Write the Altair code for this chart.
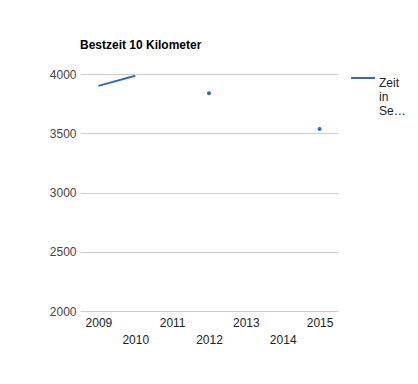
import altair as alt
import pandas as pd

years = [2009, 2010, 2011, 2012, 2013, 2014, 2015]
values = [3900, 3985, None, 3838, None, None, 3535]
series = "Zeit in Sekunden"

df = pd.DataFrame({"Jahr": years, "Wert": values, "Serie": series})
# a value with no neighbour is drawn as a dot, as a line cannot show it
iso = []
for i, v in enumerate(values):
    prev_ok = i > 0 and values[i - 1] is not None
    next_ok = i < len(values) - 1 and values[i + 1] is not None
    iso.append(v is not None and not prev_ok and not next_ok)
df["iso"] = iso

FONT = "Liberation Sans"
BLUE = "#3366cc"

x = alt.X(
    "Jahr:O",
    scale=alt.Scale(paddingOuter=0.5, paddingInner=1),
    axis=alt.Axis(
        title=None, labelAngle=0, domain=False, ticks=False, grid=False,
        labelFont=FONT, labelFontSize=12, labelColor="#222",
        labelPadding={"condition": {"test": "datum.value % 2 == 0", "value": 23}, "value": 6},
        labelBaseline="top",
    ),
)
y = alt.Y(
    "Wert:Q",
    scale=alt.Scale(domain=[2000, 4000], nice=False, zero=False),
    axis=alt.Axis(
        title=None, values=[2000, 2500, 3000, 3500, 4000], format="d", domain=False, ticks=False,
        gridColor="#cccccc", labelFont=FONT, labelFontSize=12, labelColor="#444",
        labelPadding=4,
    ),
)
color = alt.Color(
    "Serie:N",
    scale=alt.Scale(range=[BLUE]),
    legend=alt.Legend(
        title=None, orient="none", legendX=270, legendY=-9,
        symbolType="stroke", symbolStrokeWidth=2, symbolSize=576,
        labelFont=FONT, labelFontSize=12, labelColor="#222",
        labelExpr="['Zeit', 'in', 'Se\u2026']", labelBaseline="top",
        labelOffset=3,
    ),
)

line = alt.Chart(df).mark_line(strokeWidth=2).encode(x=x, y=y, color=color)
dots = alt.Chart(df).transform_filter("datum.iso").mark_point(
    filled=True, size=16, opacity=1
).encode(x=x, y=y, color=alt.Color("Serie:N", scale=alt.Scale(range=[BLUE]), legend=None))

chart = (line + dots).properties(
    width=258, height=237,
    title=alt.TitleParams("Bestzeit 10 Kilometer", anchor="start", frame="group", font=FONT,
                          fontSize=12, fontWeight="bold", color="#000", offset=13),
    autosize=alt.AutoSizeParams(type="none"),
    padding={"left": 72, "top": 66, "right": 70, "bottom": 40},
).configure_view(stroke=None)

chart.save("out.html", embed_options={"renderer": "svg", "actions": False})
